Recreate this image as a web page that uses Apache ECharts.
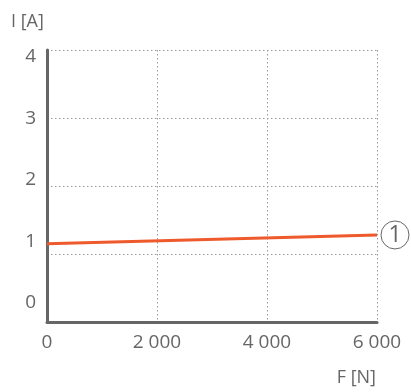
<!DOCTYPE html>
<html><head><meta charset="utf-8">
<script src="https://cdn.jsdelivr.net/npm/echarts@6/dist/echarts.min.js"></script>
<style>html,body{margin:0;padding:0;background:#fff}#c{width:411px;height:392px}</style>
</head><body><div id="c"></div>
<script>
const forceN = [0, 6000];
const currentA = [1.15, 1.28];
const xTicks = [0, 2000, 4000, 6000];
const yTicks = [0, 1, 2, 3, 4];
const seriesName = '1';
const xName = 'F [N]';
const yName = 'I [A]';

const fmt = v => String(v).replace(/\B(?=(\d{3})+(?!\d))/g, ' ');
const font = '"Open Sans", "Noto Sans", sans-serif';
const grey = '#666';

const chart = echarts.init(document.getElementById('c'), null, {renderer: 'canvas'});
chart.setOption({
  animation: false,
  grid: [
    {left: 47, right: 34, top: 50, bottom: 70},
    {left: 47, right: 34, top: 57, bottom: 89}
  ],
  graphic: [
    {type: 'text', left: 11, top: 13, style: {text: yName, fill: grey, fontSize: 18, fontFamily: font}},
    {type: 'text', right: 35, top: 369, style: {text: xName, fill: grey, fontSize: 18, fontFamily: font}}
  ],
  xAxis: [
    {gridIndex: 0, type: 'value', min: xTicks[0], max: xTicks[xTicks.length-1], interval: 2000,
     axisLine: {show: true, lineStyle: {color: grey, width: 3}},
     axisTick: {show: false},
     axisLabel: {formatter: fmt, color: grey, fontSize: 19, fontFamily: font, margin: 11},
     splitLine: {show: true, lineStyle: {type: [1.5, 2.5], color: '#999', width: 1}}
    },
    {gridIndex: 1, type: 'value', min: 0, max: 1, show: false}
  ],
  yAxis: [
    {gridIndex: 0, type: 'value', min: 0, max: 4, interval: 1,
     axisLine: {show: true, lineStyle: {color: grey, width: 3}},
     axisTick: {show: false},
     axisLabel: {show: false},
     splitLine: {show: true, lineStyle: {type: [1.5, 2.5], color: '#999', width: 1}}
    },
    {gridIndex: 1, type: 'value', min: yTicks[0], max: yTicks[yTicks.length-1], interval: 1,
     axisLine: {show: false}, axisTick: {show: false}, splitLine: {show: false},
     axisLabel: {color: grey, fontSize: 19, fontFamily: font, margin: 11}
    }
  ],
  series: [{
    type: 'line', xAxisIndex: 0, yAxisIndex: 0, name: seriesName,
    data: forceN.map((f, i) => [f, currentA[i]]),
    showSymbol: false, symbol: 'none',
    lineStyle: {color: '#ee5a2c', width: 3},
    endLabel: {
      show: true, formatter: '{c|' + seriesName + '}', distance: 4,
      rich: {c: {
        color: grey, fontSize: 23, fontFamily: font,
        width: 28, height: 28, lineHeight: 28, align: 'center', verticalAlign: 'middle',
        borderColor: grey, borderWidth: 1, borderRadius: 15
      }}
    }
  }]
});
</script></body></html>
